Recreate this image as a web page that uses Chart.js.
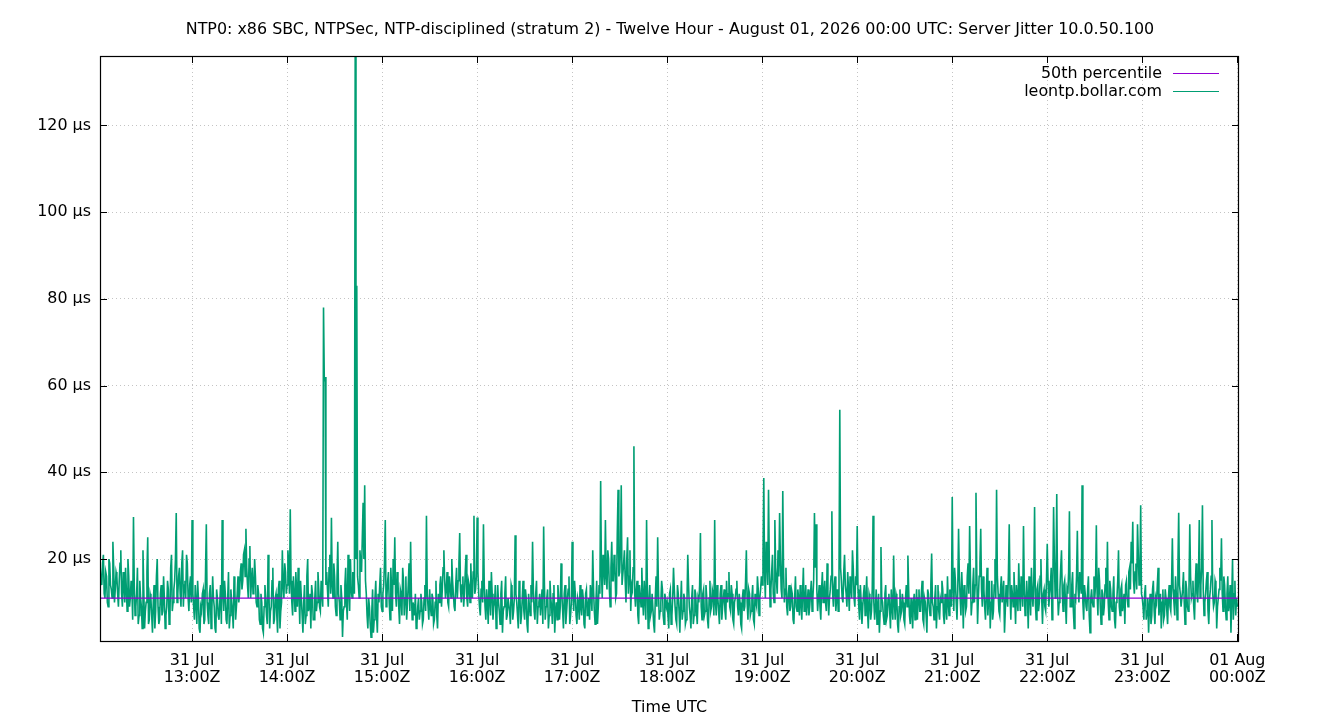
<!DOCTYPE html>
<html>
<head>
<meta charset="utf-8">
<title>Server Jitter</title>
<script src="https://cdn.jsdelivr.net/npm/chart.js@4.4.1/dist/chart.umd.min.js"></script>
<style>
  html, body { margin: 0; padding: 0; background: #ffffff; }
  #wrap { width: 1340px; height: 720px; }
</style>
</head>
<body>
<div id="wrap"><canvas id="jitterChart" width="1340" height="720"></canvas></div>
<script>

var chartTitle = 'NTP0: x86 SBC, NTPSec, NTP-disciplined (stratum 2) - Twelve Hour - August 01, 2026 00:00 UTC: Server Jitter 10.0.50.100';
var seriesNames = ['50th percentile', 'leontp.bollar.com'];

// x axis, hours since 31 Jul 00:00 UTC
var xMin = 12.031;
var xMax = 24.018;
var xTicks = [13, 14, 15, 16, 17, 18, 19, 20, 21, 22, 23, 24];
var xTickLabels = [
    ['31 Jul', '13:00Z'], ['31 Jul', '14:00Z'], ['31 Jul', '15:00Z'], ['31 Jul', '16:00Z'],
    ['31 Jul', '17:00Z'], ['31 Jul', '18:00Z'], ['31 Jul', '19:00Z'], ['31 Jul', '20:00Z'],
    ['31 Jul', '21:00Z'], ['31 Jul', '22:00Z'], ['31 Jul', '23:00Z'], ['01 Aug', '00:00Z']
];

// y axis, microseconds
var yMin = 1.1;
var yMax = 136;
var yTicks = [20, 40, 60, 80, 100, 120];

var p50 = 11;

// jitter readings (µs) on the minute
var jitter12 = [18, 14, 21, 11, 16, 9, 19, 13, 24, 10, 17, 12, 15, 22, 9, 14, 18, 8, 16, 11,
    13, 29.7, 7, 12, 5, 15, 9, 22, 4, 10, 25, 6, 11, 3, 14, 8, 20, 5, 12, 7,
    16, 4, 9, 13, 6, 21, 10, 15, 30.6, 12, 18, 9, 22, 14, 11, 19, 8, 16];
var jitter13 = [29, 9, 14, 5, 11, 3, 8, 13, 6, 28, 7, 12, 4, 16, 9, 3, 11, 6, 14, 29,
    8, 12, 5, 17, 7, 10, 4, 13, 9, 16, 12, 19, 15, 22, 27, 14, 20, 11, 18, 13,
    16, 9, 12, 5, 10, 3, 14, 7, 21, 4, 9, 18, 6, 12, 3, 15, 8, 22, 11, 17];
var jitter14 = [14, 19, 31.5, 10, 16, 8, 13, 18, 5, 11, 3, 14, 7, 20, 9, 4, 12, 6, 15, 10,
    13, 8, 12, 78, 62, 17, 9, 21, 29.5, 11, 16, 7, 24, 10, 14, 2, 9, 18, 6, 13,
    20, 11, 15, 136, 83, 14, 22, 17, 33, 37, 12, 4, 9, 2, 13, 6, 15, 3, 10, 18];
var jitter15 = [8, 14, 29, 11, 17, 6, 13, 20, 25, 9, 15, 5, 12, 18, 7, 16, 10, 19, 24, 6,
    9, 12, 5, 11, 8, 10, 6, 14, 30, 9, 13, 7, 11, 6, 15, 4, 10, 16, 13, 22,
    11, 17, 9, 14, 20, 12, 8, 18, 15, 26, 10, 16, 12, 21, 9, 14, 19, 11, 30, 13];
var jitter16 = [29.6, 12, 7, 15, 28, 9, 13, 5, 11, 17, 6, 10, 4, 14, 8, 12, 3, 9, 16, 7,
    11, 5, 13, 8, 25.5, 10, 4, 12, 7, 15, 6, 11, 3, 9, 14, 24, 8, 12, 5, 10,
    7, 13, 27.5, 6, 11, 4, 15, 9, 12, 3, 10, 14, 6, 19, 8, 12, 5, 11, 16, 7];
var jitter17 = [24, 8, 12, 5, 10, 14, 7, 11, 4, 13, 9, 6, 12, 22, 8, 10, 5, 14, 38, 11,
    18, 29, 13, 20, 9, 24, 15, 19, 12, 36, 17, 37, 14, 22, 10, 25, 16, 8, 13, 46,
    9, 15, 5, 12, 18, 7, 11, 29, 4, 14, 8, 12, 3, 16, 25, 6, 10, 13, 5, 11];
var jitter18 = [10, 4, 13, 7, 18, 9, 5, 12, 3, 15, 8, 11, 6, 21, 9, 4, 14, 7, 12, 5,
    10, 26, 6, 13, 8, 11, 4, 15, 9, 12, 29, 7, 11, 5, 14, 9, 13, 6, 10, 17,
    8, 12, 5, 11, 15, 7, 10, 4, 13, 9, 22, 6, 12, 8, 14, 5, 10, 16, 7, 13];
var jitter19 = [14, 38.7, 11, 20, 36, 9, 17, 12, 29, 15, 22, 30.6, 13, 35.7, 10, 18, 7, 14, 9, 12,
    5, 16, 8, 11, 14, 6, 18, 10, 7, 13, 9, 15, 11, 30.6, 28, 8, 14, 6, 17, 12,
    10, 19, 7, 13, 31, 9, 16, 11, 8, 54.4, 15, 10, 21, 12, 17, 8, 14, 22, 11, 16];
var jitter20 = [27.6, 9, 14, 5, 12, 7, 16, 4, 11, 8, 30, 6, 13, 9, 3, 22.8, 10, 5, 14, 7,
    12, 4, 9, 20.8, 6, 11, 3, 13, 8, 10, 5, 14, 20.8, 7, 11, 4, 12, 9, 6, 13,
    8, 15, 5, 10, 3, 12, 7, 21.3, 9, 11, 4, 14, 6, 10, 13, 5, 9, 16, 7, 12];
var jitter21 = [34.3, 8, 15, 6, 27, 11, 17, 4, 13, 9, 19, 27.6, 7, 14, 10, 35.3, 5, 16, 27, 9,
    13, 6, 18, 11, 4, 15, 8, 20, 36, 12, 7, 16, 10, 3, 14, 9, 28, 6, 12, 17,
    5, 11, 19, 8, 13, 27.6, 7, 15, 4, 12, 18, 9, 32, 6, 14, 10, 20, 5, 13, 8];
var jitter22 = [23.5, 9, 14, 6, 32, 11, 35, 7, 13, 22, 8, 15, 5, 12, 31, 9, 17, 4, 11, 26.5,
    10, 14, 37, 6, 12, 8, 16, 3, 13, 9, 11, 27.8, 7, 15, 5, 12, 9, 18, 24, 6,
    13, 8, 16, 4, 11, 22, 7, 14, 10, 5, 15, 9, 18, 24, 28.6, 12, 19, 28, 14, 32.4];
var jitter23 = [11, 6, 14, 8, 3, 12, 7, 15, 5, 10, 18, 9, 4, 13, 7, 11, 5, 14, 8, 24.8,
    10, 16, 6, 30.7, 12, 9, 17, 5, 13, 8, 28, 11, 15, 6, 19, 10, 29, 14, 32.4, 7,
    12, 17, 5, 13, 29, 9, 15, 4, 11, 18, 24.8, 8, 14, 6, 16, 10, 3, 20, 12, 7];
var jitter00 = [9];

// readings half a minute later
var half12 = [15, 19, 12, 17, 10, 20, 14, 11, 18, 13, 16, 9, 19, 12, 17, 10, 13, 20, 9, 15,
    6, 14, 9, 18, 7, 11, 4, 13, 8, 17, 5, 12, 7, 10, 4, 16, 9, 6, 14, 8,
    11, 7, 15, 5, 18, 8, 13, 20, 10, 16, 12, 19, 9, 15, 21, 11, 14, 10];
var half13 = [12, 6, 10, 15, 4, 9, 12, 5, 17, 10, 5, 14, 8, 11, 4, 13, 7, 10, 5, 12,
    15, 6, 11, 4, 13, 8, 16, 6, 12, 10, 17, 13, 21, 16, 18, 11, 23, 15, 12, 20,
    10, 14, 6, 12, 4, 9, 11, 5, 13, 8, 15, 5, 11, 7, 13, 4, 10, 14, 19, 12];
var half14 = [22, 12, 15, 7, 13, 17, 9, 12, 15, 7, 10, 5, 16, 8, 12, 14, 6, 11, 8, 17,
    9, 15, 9, 61, 14, 13, 18, 12, 14, 19, 9, 15, 12, 6, 11, 8, 14, 10, 21, 8,
    13, 17, 12, 20, 16, 11, 19, 25, 20, 15, 7, 11, 5, 8, 3, 11, 7, 12, 14, 9];
var half15 = [12, 19, 9, 15, 10, 18, 8, 14, 12, 17, 9, 13, 7, 15, 11, 6, 14, 8, 12, 10,
    7, 4, 9, 6, 12, 5, 11, 8, 12, 6, 9, 12, 5, 10, 7, 12, 14, 9, 18, 15,
    13, 10, 16, 11, 15, 9, 14, 11, 19, 13, 14, 9, 17, 11, 15, 10, 13, 17, 12, 16];
var half16 = [17, 9, 13, 10, 14, 6, 10, 15, 7, 12, 9, 14, 7, 10, 5, 15, 8, 12, 6, 11,
    8, 14, 6, 11, 12, 7, 15, 5, 11, 8, 13, 5, 12, 7, 10, 13, 6, 15, 9, 12,
    10, 5, 14, 9, 13, 7, 11, 5, 14, 8, 6, 11, 9, 12, 4, 14, 8, 13, 5, 10];
var half17 = [12, 15, 7, 11, 6, 9, 13, 5, 12, 7, 11, 14, 8, 13, 5, 15, 9, 12, 17, 21,
    14, 16, 22, 13, 18, 15, 21, 11, 26, 16, 22, 14, 19, 15, 20, 12, 22, 14, 18, 12,
    13, 7, 14, 9, 11, 15, 6, 13, 10, 7, 12, 5, 11, 9, 13, 8, 15, 7, 12, 9];
var half18 = [7, 12, 5, 11, 13, 6, 14, 8, 10, 6, 12, 5, 10, 14, 7, 11, 5, 13, 8, 11,
    14, 9, 12, 7, 14, 6, 11, 8, 13, 7, 10, 14, 8, 12, 6, 11, 8, 15, 12, 9,
    14, 6, 10, 13, 9, 12, 5, 11, 8, 15, 10, 13, 7, 11, 6, 12, 9, 13, 11, 16];
var half19 = [20, 17, 24, 14, 19, 13, 21, 10, 18, 12, 16, 20, 11, 17, 13, 9, 12, 8, 13, 6,
    11, 9, 13, 7, 10, 12, 8, 14, 10, 7, 12, 8, 15, 18, 13, 11, 9, 13, 10, 15,
    8, 12, 11, 16, 12, 14, 8, 13, 16, 18, 11, 17, 14, 9, 13, 16, 11, 18, 9, 14];
var half20 = [13, 6, 10, 9, 14, 11, 8, 12, 6, 13, 10, 9, 5, 12, 8, 11, 7, 12, 6, 11,
    8, 13, 6, 10, 12, 5, 9, 7, 12, 6, 11, 9, 13, 5, 8, 10, 6, 13, 11, 8,
    12, 6, 11, 7, 13, 9, 14, 10, 6, 14, 9, 8, 11, 15, 7, 12, 6, 10, 13, 9];
var half21 = [14, 18, 10, 13, 16, 7, 12, 14, 8, 16, 12, 16, 10, 18, 14, 17, 11, 19, 13, 16,
    9, 12, 7, 15, 10, 6, 14, 11, 16, 8, 13, 10, 15, 8, 11, 17, 12, 14, 9, 11,
    14, 8, 12, 16, 9, 13, 10, 11, 16, 7, 12, 15, 10, 13, 8, 16, 11, 12, 9, 15];
var half22 = [15, 12, 18, 13, 20, 16, 13, 10, 18, 12, 14, 10, 13, 17, 9, 14, 8, 12, 16, 13,
    17, 12, 10, 14, 9, 13, 7, 11, 10, 16, 14, 12, 18, 9, 13, 7, 14, 11, 10, 15,
    9, 12, 6, 10, 15, 9, 13, 8, 12, 14, 11, 17, 13, 19, 15, 17, 13, 21, 16, 12];
var half23 = [9, 12, 6, 11, 9, 5, 13, 8, 11, 14, 7, 12, 10, 6, 13, 8, 11, 9, 14, 13,
    7, 12, 18, 14, 9, 13, 10, 15, 9, 13, 16, 12, 9, 14, 12, 16, 11, 18, 13, 10,
    15, 8, 11, 16, 12, 10, 14, 9, 13, 15, 12, 16, 9, 12, 8, 14, 11, 6, 15, 11];

// first reading of each block, in hours
var blocks = [
    [12 + 2 / 60, jitter12, half12], [13, jitter13, half13], [14, jitter14, half14],
    [15, jitter15, half15], [16, jitter16, half16], [17, jitter17, half17],
    [18, jitter18, half18], [19, jitter19, half19], [20, jitter20, half20],
    [21, jitter21, half21], [22, jitter22, half22], [23, jitter23, half23],
    [24, jitter00, []]
];

var jitterPoints = [];
blocks.forEach(function (b) {
    b[1].forEach(function (v, i) {
        jitterPoints.push({ x: b[0] + i / 60, y: v });
        if (i < b[2].length) {
            jitterPoints.push({ x: b[0] + (i + 0.5) / 60, y: b[2][i] });
        }
    });
});

var fontFamily = '"DejaVu Sans", "Liberation Sans", sans-serif';
var fontSize = 15.9;
var gridColor = '#c4c4c4';

// gnuplot-ish frame: title, border, inward ticks, key
var gnuplotFrame = {
    id: 'gnuplotFrame',
    afterDraw: function (chart) {
        var ctx = chart.ctx;
        var area = chart.chartArea;
        var xs = chart.scales.x;
        var ys = chart.scales.y;
        var tick = 7;

        ctx.save();
        ctx.fillStyle = '#000000';
        ctx.font = fontSize + 'px ' + fontFamily;
        ctx.textAlign = 'center';
        ctx.textBaseline = 'middle';
        ctx.fillText(chartTitle, chart.width / 2, 29.5);

        ctx.strokeStyle = '#000000';
        ctx.lineWidth = 1.2;
        ctx.strokeRect(area.left + 0.5, area.top + 0.5, area.right - area.left - 1, area.bottom - area.top);

        ctx.lineWidth = 1;
        ctx.beginPath();
        xTicks.forEach(function (t) {
            var px = Math.round(xs.getPixelForValue(t)) + 0.5;
            ctx.moveTo(px, area.bottom);
            ctx.lineTo(px, area.bottom - tick);
            ctx.moveTo(px, area.top);
            ctx.lineTo(px, area.top + tick);
        });
        yTicks.forEach(function (t) {
            var py = Math.round(ys.getPixelForValue(t)) + 0.5;
            ctx.moveTo(area.left, py);
            ctx.lineTo(area.left + tick, py);
            ctx.moveTo(area.right, py);
            ctx.lineTo(area.right - tick, py);
        });
        ctx.stroke();

        // key, top right
        ctx.textAlign = 'right';
        chart.data.datasets.forEach(function (ds, i) {
            var ky = 74 + i * 18;
            ctx.fillStyle = '#000000';
            ctx.fillText(ds.label, 1162, ky);
            ctx.strokeStyle = ds.borderColor;
            ctx.beginPath();
            ctx.moveTo(1173, ky - 0.5);
            ctx.lineTo(1219, ky - 0.5);
            ctx.stroke();
        });
        ctx.restore();
    }
};

var ctx = document.getElementById('jitterChart').getContext('2d');
var chart = new Chart(ctx, {
    type: 'line',
    data: {
        datasets: [{
            label: seriesNames[0],
            data: [{ x: xMin, y: p50 }, { x: xMax, y: p50 }],
            borderColor: '#9400d3',
            borderWidth: 1.2,
            pointRadius: 0,
            tension: 0
        }, {
            label: seriesNames[1],
            data: jitterPoints,
            borderColor: '#009e73',
            borderWidth: 1.6,
            pointRadius: 0,
            tension: 0
        }]
    },
    options: {
        responsive: false,
        animation: false,
        devicePixelRatio: 1,
        layout: { padding: { top: 56, right: 101, left: 0, bottom: 0 } },
        plugins: {
            legend: { display: false },
            title: { display: false },
            tooltip: { enabled: false }
        },
        scales: {
            x: {
                type: 'linear',
                min: xMin,
                max: xMax,
                afterBuildTicks: function (scale) {
                    scale.ticks = xTicks.map(function (v) { return { value: v }; });
                },
                afterFit: function (scale) { scale.height = 79; },
                grid: {
                    color: gridColor,
                    lineWidth: 1,
                    drawTicks: false
                },
                border: { display: false, dash: [1, 3] },
                ticks: {
                    autoSkip: false,
                    maxRotation: 0,
                    padding: 11,
                    color: '#000000',
                    font: { family: fontFamily, size: fontSize, lineHeight: 1.1 },
                    callback: function (value) {
                        var i = xTicks.indexOf(value);
                        return i < 0 ? '' : xTickLabels[i];
                    }
                },
                title: {
                    display: true,
                    text: 'Time UTC',
                    color: '#000000',
                    padding: { top: 0, bottom: 3 },
                    font: { family: fontFamily, size: fontSize, lineHeight: 1.125 }
                }
            },
            y: {
                type: 'linear',
                min: yMin,
                max: yMax,
                afterBuildTicks: function (scale) {
                    scale.ticks = yTicks.map(function (v) { return { value: v }; });
                },
                afterFit: function (scale) { scale.width = 100; },
                grid: {
                    color: gridColor,
                    lineWidth: 1,
                    drawTicks: false
                },
                border: { display: false, dash: [1, 3] },
                ticks: {
                    padding: 9,
                    color: '#000000',
                    font: { family: fontFamily, size: fontSize },
                    callback: function (value) { return value + ' µs'; }
                }
            }
        }
    },
    plugins: [gnuplotFrame]
});
</script>
</body>
</html>
